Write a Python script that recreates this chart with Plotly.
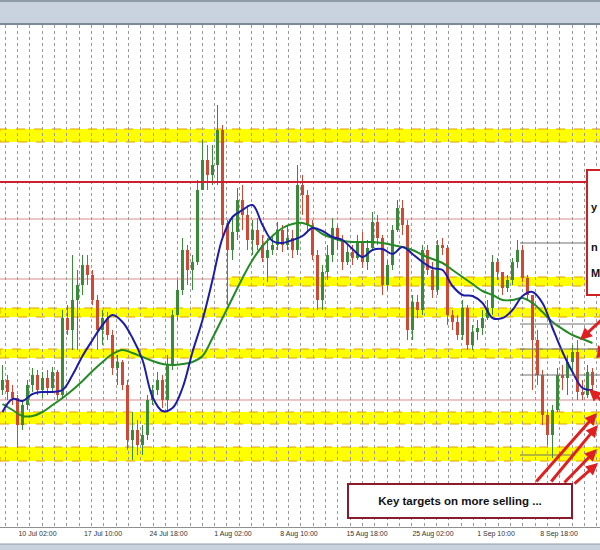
import plotly.graph_objects as go

# ---------------- data ----------------
first_open = 1.0610
high = [1.0635, 1.0625, 1.0615, 1.0605, 1.0600, 1.0620, 1.0632, 1.0630, 1.0628, 1.0630,
        1.0633, 1.0630, 1.0690, 1.0695, 1.0745, 1.0730, 1.0745, 1.0745, 1.0730, 1.0705,
        1.0690, 1.0688, 1.0670, 1.0645, 1.0640, 1.0620, 1.0588, 1.0580, 1.0575, 1.0605,
        1.0615, 1.0628, 1.0625, 1.0645, 1.0690, 1.0720, 1.0762, 1.0755, 1.0745, 1.0820,
        1.0860, 1.0855, 1.0855, 1.0895, 1.0875, 1.0780, 1.0782, 1.0812, 1.0815, 1.0795,
        1.0780, 1.0782, 1.0765, 1.0762, 1.0765, 1.0778, 1.0775, 1.0775, 1.0770, 1.0835,
        1.0825, 1.0810, 1.0780, 1.0750, 1.0735, 1.0755, 1.0782, 1.0775, 1.0765, 1.0755,
        1.0755, 1.0765, 1.0768, 1.0760, 1.0788, 1.0785, 1.0765, 1.0740, 1.0775, 1.0800,
        1.0800, 1.0780, 1.0705, 1.0705, 1.0755, 1.0755, 1.0738, 1.0760, 1.0762, 1.0755,
        1.0690, 1.0685, 1.0700, 1.0695, 1.0675, 1.0680, 1.0690, 1.0700, 1.0745, 1.0742,
        1.0728, 1.0725, 1.0742, 1.0760, 1.0755, 1.0725, 1.0705, 1.0670, 1.0630, 1.0590,
        1.0595, 1.0632, 1.0635, 1.0645, 1.0655, 1.0660, 1.0620, 1.0635, 1.0632]
low = [1.0605, 1.0600, 1.0595, 1.0552, 1.0570, 1.0590, 1.0608, 1.0605, 1.0602, 1.0605,
       1.0608, 1.0600, 1.0602, 1.0665, 1.0650, 1.0650, 1.0705, 1.0715, 1.0695, 1.0650,
       1.0655, 1.0660, 1.0625, 1.0615, 1.0610, 1.0550, 1.0540, 1.0545, 1.0545, 1.0560,
       1.0595, 1.0605, 1.0592, 1.0588, 1.0630, 1.0680, 1.0705, 1.0715, 1.0710, 1.0735,
       1.0810, 1.0810, 1.0815, 1.0815, 1.0760, 1.0695, 1.0740, 1.0760, 1.0770, 1.0750,
       1.0745, 1.0750, 1.0738, 1.0718, 1.0745, 1.0750, 1.0748, 1.0750, 1.0742, 1.0745,
       1.0785, 1.0768, 1.0740, 1.0690, 1.0690, 1.0720, 1.0738, 1.0750, 1.0730, 1.0735,
       1.0735, 1.0740, 1.0732, 1.0730, 1.0750, 1.0755, 1.0705, 1.0710, 1.0730, 1.0768,
       1.0765, 1.0660, 1.0660, 1.0682, 1.0685, 1.0725, 1.0702, 1.0705, 1.0745, 1.0675,
       1.0670, 1.0660, 1.0660, 1.0650, 1.0650, 1.0660, 1.0665, 1.0680, 1.0685, 1.0720,
       1.0705, 1.0708, 1.0715, 1.0732, 1.0718, 1.0700, 1.0610, 1.0615, 1.0575, 1.0555,
       1.0542, 1.0588, 1.0610, 1.0605, 1.0630, 1.0600, 1.0600, 1.0602, 1.0605]
close = [1.0620, 1.0608, 1.0602, 1.0575, 1.0595, 1.0615, 1.0625, 1.0610, 1.0622, 1.0612,
         1.0628, 1.0605, 1.0682, 1.0670, 1.0700, 1.0715, 1.0735, 1.0725, 1.0700, 1.0670,
         1.0682, 1.0665, 1.0632, 1.0638, 1.0615, 1.0560, 1.0570, 1.0555, 1.0565, 1.0600,
         1.0610, 1.0620, 1.0600, 1.0635, 1.0685, 1.0710, 1.0750, 1.0730, 1.0738, 1.0810,
         1.0840, 1.0825, 1.0835, 1.0870, 1.0775, 1.0750, 1.0768, 1.0800, 1.0785, 1.0760,
         1.0770, 1.0755, 1.0742, 1.0750, 1.0755, 1.0770, 1.0755, 1.0762, 1.0750, 1.0815,
         1.0805, 1.0775, 1.0745, 1.0700, 1.0728, 1.0745, 1.0772, 1.0760, 1.0738, 1.0748,
         1.0742, 1.0758, 1.0738, 1.0752, 1.0778, 1.0762, 1.0715, 1.0735, 1.0770, 1.0792,
         1.0775, 1.0670, 1.0698, 1.0690, 1.0750, 1.0730, 1.0710, 1.0755, 1.0752, 1.0685,
         1.0678, 1.0665, 1.0692, 1.0655, 1.0668, 1.0672, 1.0682, 1.0692, 1.0738, 1.0728,
         1.0712, 1.0720, 1.0738, 1.0750, 1.0722, 1.0705, 1.0660, 1.0625, 1.0585, 1.0565,
         1.0590, 1.0625, 1.0622, 1.0638, 1.0648, 1.0608, 1.0605, 1.0628, 1.0615]
candle_idx = list(range(len(close)))
open_ = [first_open] + close[:-1]

# moving averages sampled every second bar
ma_idx = list(range(0, 120, 2))
ma_blue = [1.0588, 1.0601, 1.0599, 1.0606, 1.0608, 1.0608, 1.0610, 1.0625, 1.0644, 1.0660,
           1.0675, 1.0685, 1.0678, 1.0662, 1.0640, 1.0603, 1.0589, 1.0592, 1.0612, 1.0648,
           1.0680, 1.0720, 1.0762, 1.0783, 1.0790, 1.0795, 1.0775, 1.0759, 1.0757, 1.0760,
           1.0764, 1.0772, 1.0769, 1.0763, 1.0760, 1.0751, 1.0743, 1.0750, 1.0751, 1.0746,
           1.0753, 1.0746, 1.0738, 1.0732, 1.0730, 1.0714, 1.0705, 1.0704, 1.0697, 1.0682,
           1.0682, 1.0690, 1.0704, 1.0708, 1.0697, 1.0672, 1.0648, 1.0628, 1.0612, 1.0610]
ma_green = [1.0596, 1.0590, 1.0584, 1.0584, 1.0588, 1.0595, 1.0602, 1.0610, 1.0619, 1.0629,
            1.0638, 1.0646, 1.0650, 1.0647, 1.0643, 1.0639, 1.0636, 1.0635, 1.0636, 1.0638,
            1.0644, 1.0662, 1.0682, 1.0702, 1.0722, 1.0740, 1.0754, 1.0764, 1.0772, 1.0776,
            1.0777, 1.0773, 1.0766, 1.0762, 1.0759, 1.0758, 1.0758, 1.0758, 1.0757, 1.0755,
            1.0753, 1.0750, 1.0745, 1.0741, 1.0737, 1.0730, 1.0723, 1.0716, 1.0709, 1.0705,
            1.0700, 1.0700, 1.0702, 1.0697, 1.0688, 1.0678, 1.0671, 1.0665, 1.0661, 1.0657]

tick_labels = ["10 Jul 02:00", "17 Jul 10:00", "24 Jul 18:00", "1 Aug 02:00", "8 Aug 10:00",
               "15 Aug 18:00", "25 Aug 02:00", "1 Sep 10:00", "8 Sep 18:00"]
tick_pos = [7.0, 20.1, 33.2, 46.1, 59.3, 72.9, 86.1, 98.7, 111.3]

# horizontal zones / lines (price levels)
zone_top = [1.0871, 1.0723, 1.0692, 1.0651, 1.0588, 1.0553]
zone_bot = [1.0858, 1.0714, 1.0683, 1.0642, 1.0576, 1.0539]
zone_start = [-0.5, 45.5, -0.5, -0.5, -0.5, -0.5]

salmon_levels = [1.0781, 1.0721, 1.0600]
salmon_start = [-0.5, -0.5, -0.5]
salmon_end = [116.9, 45.5, 119.5]

red_level = 1.0818
gray_levels = [1.0757, 1.0676, 1.0651, 1.0625, 1.0545]
gray_end = [116.9, 119.5, 119.5, 119.5, 114.5]

X0, X1 = -0.5, 119.5
Y0, Y1 = 1.0473, 1.0975
UP, DOWN = "#3a8a3a", "#cc4a36"

fig = go.Figure()

# candle wicks (thin lines) and bodies (narrow bars)
colors = [UP if c >= o else DOWN for o, c in zip(open_, close)]
for col in (UP, DOWN):
    wx, wy = [], []
    for i, h, l, c in zip(candle_idx, high, low, colors):
        if c == col:
            wx += [i, i, None]
            wy += [l, h, None]
    fig.add_trace(go.Scatter(x=wx, y=wy, mode="lines", line=dict(color=col, width=1),
                             showlegend=False, hoverinfo="skip"))
body_len = [max(abs(c - o), 0.00008) for o, c in zip(open_, close)]
body_base = [min(o, c) for o, c in zip(open_, close)]
fig.add_trace(go.Bar(x=candle_idx, y=body_len, base=body_base, width=0.5,
                     marker=dict(color=colors, line=dict(width=0)),
                     showlegend=False, hoverinfo="skip"))

fig.add_trace(go.Scatter(x=ma_idx, y=ma_green, mode="lines",
                         line=dict(color="#238b23", width=2, shape="spline"),
                         showlegend=False, hoverinfo="skip"))
fig.add_trace(go.Scatter(x=ma_idx, y=ma_blue, mode="lines",
                         line=dict(color="#1c1ca8", width=2, shape="spline"),
                         showlegend=False, hoverinfo="skip"))

shapes = []
for t, b, s in zip(zone_top, zone_bot, zone_start):
    shapes.append(dict(type="rect", xref="x", yref="y", x0=s, x1=X1, y0=b, y1=t,
                       fillcolor="#ffff00", line=dict(color="#e0a000", width=1, dash="dash"),
                       layer="below"))
for lv, s, e in zip(salmon_levels, salmon_start, salmon_end):
    shapes.append(dict(type="line", xref="x", yref="y", x0=s, x1=e, y0=lv, y1=lv,
                       line=dict(color="#d98c8c", width=1), layer="below"))
shapes.append(dict(type="line", xref="x", yref="y", x0=X0, x1=116.9, y0=red_level, y1=red_level,
                   line=dict(color="#cc2030", width=2)))
for lv, e in zip(gray_levels, gray_end):
    shapes.append(dict(type="line", xref="x", yref="y", x0=103.5, x1=e, y0=lv, y1=lv,
                       line=dict(color="#707070", width=1)))

H = 502.0
def py(p):
    return 1 - (p - 25) / H

# header bar and footer bar
shapes.append(dict(type="rect", xref="paper", yref="paper", x0=0, x1=1, y0=py(24), y1=py(0),
                   fillcolor="#c8d3df", line=dict(width=0)))
shapes.append(dict(type="line", xref="paper", yref="paper", x0=0, x1=1, y0=py(1), y1=py(1),
                   line=dict(color="#8e9bab", width=2)))
shapes.append(dict(type="line", xref="paper", yref="paper", x0=0, x1=1, y0=py(24), y1=py(24),
                   line=dict(color="#7d8a9a", width=2)))
shapes.append(dict(type="rect", xref="paper", yref="paper", x0=0, x1=1, y0=py(550), y1=py(544),
                   fillcolor="#c8d2de", line=dict(width=0)))
shapes.append(dict(type="line", xref="paper", yref="paper", x0=0, x1=1, y0=py(544), y1=py(544),
                   line=dict(color="#8e9bab", width=1)))
# right note box (open on the right edge, where the picture is cropped)
x_l = 587 / 600
shapes.append(dict(type="rect", xref="paper", yref="paper", x0=x_l, x1=1.0, y0=py(295), y1=py(170),
                   fillcolor="white", line=dict(width=0)))
shapes.append(dict(type="path", xref="paper", yref="paper",
                   path="M 1.0 %f L %f %f L %f %f L 1.0 %f" % (py(170), x_l, py(170), x_l, py(295), py(295)),
                   line=dict(color="#cc2222", width=2)))

annotations = []
# arrows (head <- tail)
arrows = [((118.9, 1.0587), (106.5, 1.0517)),
          ((119.1, 1.0575), (109.5, 1.0517)),
          ((118.9, 1.0551), (112.1, 1.0516)),
          ((119.1, 1.0537), (114.1, 1.0515)),
          ((115.5, 1.0660), (120.2, 1.0682)),
          ((117.3, 1.0611), (120.3, 1.0597)),
          ((119.1, 1.0655), (120.8, 1.0633))]
for (hx, hy), (tx, ty) in arrows:
    annotations.append(dict(x=hx, y=hy, ax=tx, ay=ty, xref="x", yref="y", axref="x", ayref="y",
                            text="", showarrow=True, arrowhead=2, arrowsize=0.8, arrowwidth=3,
                            arrowcolor="#e02020"))

annotations.append(dict(x=460/600, y=py(500.5), xref="paper", yref="paper",
                        xanchor="center", yanchor="middle",
                        text="<b>Key targets on more selling ...</b>", showarrow=False,
                        font=dict(family="Liberation Sans, Arial", size=11.5, color="#111"),
                        bgcolor="white", bordercolor="#8b1a2a", borderwidth=2,
                        width=220, height=30))
for txt, yy in [("y", 207), ("n", 247), ("M", 273)]:
    annotations.append(dict(x=589/600, y=py(yy), xref="paper", yref="paper",
                            xanchor="left", yanchor="middle",
                            text="<b>%s</b>" % txt, showarrow=False,
                            font=dict(family="Liberation Sans, Arial", size=11, color="#111")))

fig.update_layout(
    width=600, height=550,
    margin=dict(l=0, r=0, t=25, b=23, autoexpand=False),
    paper_bgcolor="white", plot_bgcolor="white",
    shapes=shapes, annotations=annotations,
    showlegend=False, bargap=0,
    xaxis=dict(range=[X0, X1], showgrid=False,
               tickmode="array", tickvals=tick_pos, ticktext=tick_labels,
               ticks="", tickfont=dict(family="Liberation Sans, Arial", size=7, color="#333"),
               showline=True, linecolor="#909090", linewidth=1, zeroline=False,
               automargin=False,
               minor=dict(tick0=0.5, dtick=12.333/5, showgrid=True, gridcolor="#9a9a9a",
                          griddash="dot", gridwidth=1)),
    yaxis=dict(range=[Y0, Y1], showgrid=False, showticklabels=False, zeroline=False,
               ticks="", automargin=False),
)

fig.write_html("out.html", config={"displayModeBar": False},
               post_script="document.body.style.margin='0';document.body.style.overflow='hidden';")
